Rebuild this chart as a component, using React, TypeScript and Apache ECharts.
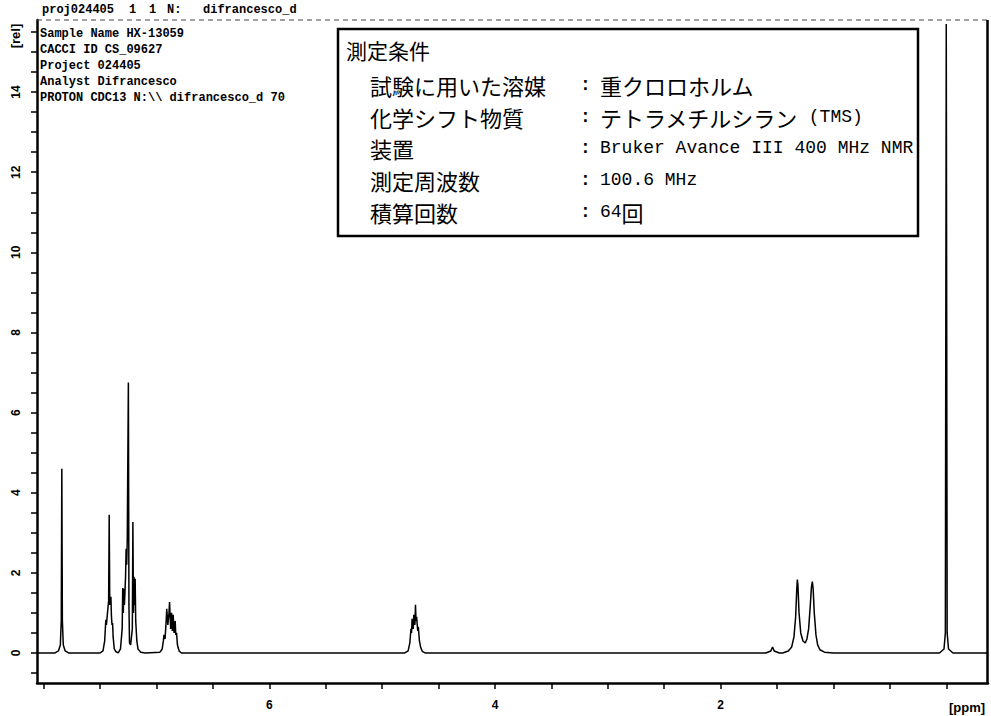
import React, { useEffect, useRef } from "react";
import * as echarts from "echarts";

// ---- Spectrum (chemical shift in ppm, relative intensity) ----
const shiftsArylSinglet = [8.06, 7.9, 7.87, 7.853, 7.845, 7.84, 7.835, 7.827, 7.81, 7.78];
const intensArylSinglet = [0, 0, 0.05, 0.2, 0.8, 4.6, 0.8, 0.2, 0.05, 0];

const shiftsAryl742 = [7.5, 7.475, 7.46, 7.45, 7.445, 7.435, 7.425, 7.42, 7.415, 7.405, 7.4, 7.395, 7.39, 7.385, 7.375, 7.36, 7.34];
const intensAryl742 = [0, 0.05, 0.3, 0.83, 0.7, 1.0, 1.3, 3.45, 1.2, 1.4, 0.9, 0.7, 0.75, 0.4, 0.1, 0.03, 0];

const shiftsAryl725 = [7.32, 7.305, 7.3, 7.295, 7.29, 7.285, 7.28, 7.275, 7.27, 7.265, 7.26, 7.25, 7.245, 7.24, 7.23, 7.215, 7.21, 7.205, 7.2, 7.195, 7.19, 7.185, 7.175, 7.165, 7.14, 7.1];
const intensAryl725 = [0.1, 0.6, 1.62, 1.0, 1.6, 1.2, 1.55, 1.9, 2.6, 2.2, 2.8, 6.75, 1.2, 0.25, 0.2, 0.6, 3.27, 1.0, 1.9, 1.2, 1.85, 0.8, 0.3, 0.1, 0.02, 0];

const shiftsAryl688 = [6.97, 6.95, 6.94, 6.935, 6.925, 6.915, 6.91, 6.9, 6.89, 6.885, 6.875, 6.867, 6.86, 6.853, 6.845, 6.835, 6.83, 6.823, 6.815, 6.8, 6.78];
const intensAryl688 = [0.02, 0.1, 0.3, 0.45, 0.35, 0.8, 1.1, 0.7, 1.0, 1.27, 0.6, 1.0, 0.55, 0.95, 0.5, 0.8, 0.45, 0.5, 0.2, 0.05, 0];

const shiftsMultiplet470 = [4.8, 4.77, 4.755, 4.745, 4.74, 4.735, 4.725, 4.72, 4.71, 4.705, 4.7, 4.695, 4.685, 4.68, 4.67, 4.66, 4.645, 4.62];
const intensMultiplet470 = [0, 0.05, 0.25, 0.6, 0.5, 0.85, 0.6, 0.95, 0.7, 1.2, 0.8, 0.9, 0.55, 0.65, 0.3, 0.15, 0.04, 0];

const shiftsWater = [1.6, 1.555, 1.54, 1.525, 1.48];
const intensWater = [0, 0.05, 0.15, 0.05, 0];

const shiftsDoublet = [1.45, 1.4, 1.37, 1.35, 1.335, 1.325, 1.32, 1.315, 1.305, 1.29, 1.27, 1.25, 1.235, 1.22, 1.205, 1.195, 1.187, 1.18, 1.17, 1.155, 1.14, 1.12, 1.08, 1.0];
const intensDoublet = [0, 0.05, 0.15, 0.4, 0.9, 1.6, 1.83, 1.7, 1.0, 0.5, 0.3, 0.25, 0.35, 0.6, 1.2, 1.65, 1.78, 1.6, 1.0, 0.45, 0.2, 0.08, 0.02, 0];

const shiftsTMS = [0.5, 0.06, 0.02, 0.008, 0, -0.008, -0.02, -0.06, -0.37];
const intensTMS = [0, 0, 0.1, 0.5, 15.7, 0.5, 0.1, 0, 0];

// ---- Axes ----
const xTickValues = [0, 0.5, 1, 1.5, 2, 2.5, 3, 3.5, 4, 4.5, 5, 5.5, 6, 6.5, 7, 7.5, 8];
const xLabelValues = [2, 4, 6];
const yTickValues = [-0.5, 0, 0.5, 1, 1.5, 2, 2.5, 3, 3.5, 4, 4.5, 5, 5.5, 6, 6.5, 7, 7.5, 8, 8.5, 9, 9.5, 10, 10.5, 11, 11.5, 12, 12.5, 13, 13.5, 14, 14.5, 15, 15.5];
const yLabelValues = [0, 2, 4, 6, 8, 10, 12, 14];

// ---- Texts ----
const headerTokens = ["proj024405", "1", "1", "N:", "difrancesco_d"];
const infoLines = [
  "Sample Name HX-13059",
  "CACCI ID CS_09627",
  "Project 024405",
  "Analyst Difrancesco",
  "PROTON CDC13 N:\\\\ difrancesco_d 70",
];
const conditionTitle = "測定条件";
const conditionLabels = ["試験に用いた溶媒", "化学シフト物質", "装置", "測定周波数", "積算回数"];
const conditionValues = [
  "重クロロホルム",
  "テトラメチルシラン{m| (TMS)}",
  "{m|Bruker Avance III 400 MHz NMR}",
  "{m|100.6 MHz}",
  "{m|64}回",
];

function zip(xs: number[], ys: number[]) {
  return xs.map((x, i) => [x, ys[i]]);
}

export default function App() {
  const ref = useRef<HTMLDivElement>(null);

  useEffect(() => {
    if (!ref.current) return;
    const chart = echarts.init(ref.current, null, { renderer: "svg" });

    const data = [
      ...zip(shiftsArylSinglet, intensArylSinglet),
      ...zip(shiftsAryl742, intensAryl742),
      ...zip(shiftsAryl725, intensAryl725),
      ...zip(shiftsAryl688, intensAryl688),
      ...zip(shiftsMultiplet470, intensMultiplet470),
      ...zip(shiftsWater, intensWater),
      ...zip(shiftsDoublet, intensDoublet),
      ...zip(shiftsTMS, intensTMS),
    ];

    const mono = "'Liberation Mono', 'DejaVu Sans Mono', monospace";
    const cjk = "'Noto Sans CJK JP', sans-serif";

    const headerX = [42, 129, 149, 167, 203];
    const graphic: any[] = [];
    headerTokens.forEach((t, i) => {
      graphic.push({
        type: "text",
        x: headerX[i],
        y: 10,
        z: 10,
        style: { text: t, font: `bold 12px ${mono}`, fill: "#000", verticalAlign: "middle" },
      });
    });
    infoLines.forEach((t, i) => {
      graphic.push({
        type: "text",
        x: 40,
        y: 34 + i * 16,
        z: 10,
        style: { text: t, font: `bold 12px ${mono}`, fill: "#000", verticalAlign: "middle" },
      });
    });
    // y-axis unit
    graphic.push({
      type: "text",
      x: 15,
      y: 36,
      rotation: Math.PI / 2,
      z: 10,
      style: { text: "[rel]", font: `bold 13px 'Liberation Sans', sans-serif`, fill: "#000", align: "center", verticalAlign: "middle" },
    });
    // x-axis unit
    graphic.push({
      type: "text",
      x: 967,
      y: 707,
      z: 10,
      style: { text: "[ppm]", font: `bold 13px 'Liberation Sans', sans-serif`, fill: "#000", align: "center", verticalAlign: "middle" },
    });
    // frame: top dotted line and right border
    graphic.push({
      type: "line",
      z: 5,
      shape: { x1: 37, y1: 20, x2: 988, y2: 20 },
      style: { stroke: "#444", lineWidth: 1.2, lineDash: [5, 4] },
    });
    graphic.push({
      type: "line",
      z: 5,
      shape: { x1: 987.5, y1: 20, x2: 987.5, y2: 684 },
      style: { stroke: "#000", lineWidth: 2.5 },
    });
    // conditions box
    graphic.push({
      type: "rect",
      z: 20,
      shape: { x: 338, y: 29, width: 580, height: 207 },
      style: { fill: "#fff", stroke: "#000", lineWidth: 2.5 },
    });
    graphic.push({
      type: "text",
      x: 346,
      y: 50,
      z: 21,
      style: { text: conditionTitle, font: `21px ${cjk}`, fill: "#000", verticalAlign: "middle" },
    });
    conditionLabels.forEach((t, i) => {
      const y = 85 + i * 31.7;
      graphic.push({
        type: "text",
        x: 370,
        y,
        z: 21,
        style: { text: t, font: `22px ${cjk}`, fill: "#000", verticalAlign: "middle" },
      });
      graphic.push({
        type: "text",
        x: 580,
        y,
        z: 21,
        style: { text: ":", font: `bold 18px ${mono}`, fill: "#000", verticalAlign: "middle" },
      });
      graphic.push({
        type: "text",
        x: 600,
        y,
        z: 21,
        style: {
          text: conditionValues[i],
          font: `22px ${cjk}`,
          fill: "#000",
          verticalAlign: "middle",
          rich: {
            m: { fontFamily: mono, fontSize: 18, fill: "#000" },
          },
        },
      });
    });

    chart.setOption({
      animation: false,
      backgroundColor: "#fff",
      grid: { left: 37, right: 3, top: 20, bottom: 33, containLabel: false },
      xAxis: {
        type: "value",
        inverse: true,
        min: -0.37,
        max: 8.06,
        splitLine: { show: false },
        axisLine: { show: true, onZero: false, lineStyle: { color: "#000", width: 2.5 } },
        axisTick: {
          show: true,
          inside: false,
          length: 6,
          customValues: xTickValues,
          lineStyle: { color: "#000", width: 1.5 },
        },
        axisLabel: {
          show: true,
          customValues: xLabelValues,
          margin: 16,
          color: "#000",
          fontWeight: "bold",
          fontSize: 12,
          fontFamily: "'Liberation Sans', sans-serif",
        },
      },
      yAxis: {
        type: "value",
        min: -0.75,
        max: 15.8,
        splitLine: { show: false },
        axisLine: { show: true, onZero: false, lineStyle: { color: "#000", width: 2.5 } },
        axisTick: {
          show: true,
          inside: false,
          length: 6,
          customValues: yTickValues,
          lineStyle: { color: "#000", width: 1.5 },
        },
        axisLabel: {
          show: true,
          customValues: yLabelValues,
          rotate: 90,
          margin: 15,
          color: "#000",
          fontWeight: "bold",
          fontSize: 12,
          fontFamily: "'Liberation Sans', sans-serif",
        },
      },
      series: [
        {
          type: "line",
          data,
          symbol: "none",
          clip: true,
          lineStyle: { color: "#000", width: 1.5 },
        },
      ],
      graphic,
    });

    return () => chart.dispose();
  }, []);

  return (
    <div
      ref={ref}
      style={{ position: "fixed", left: 0, top: 0, width: 991, height: 716, background: "#fff" }}
    />
  );
}
